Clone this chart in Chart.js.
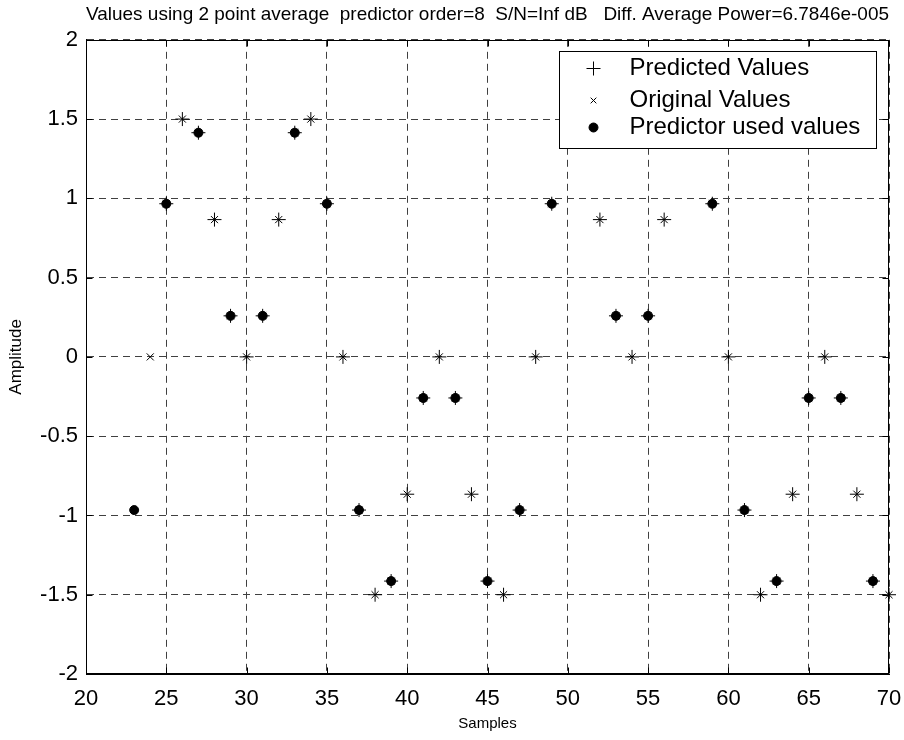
<!DOCTYPE html>
<html>
<head>
<meta charset="utf-8">
<title>Predictor values</title>
<script src="https://cdn.jsdelivr.net/npm/chart.js@4.4.0/dist/chart.umd.min.js"></script>
<style>
  html, body { margin: 0; padding: 0; background: #fff; }
  canvas { display: block; }
</style>
</head>
<body>
<canvas id="predictorChart" width="904" height="740"></canvas>
<script>
const CHART_ID = 'predictorChart';
const FONT = "'Liberation Sans', Arial, Helvetica, sans-serif";

const TITLE = 'Values using 2 point average  predictor order=8  S/N=Inf dB   Diff. Average Power=6.7846e-005';

// samples that carry an original value (x marker)
const originalSamples = [24, 25, 26, 27, 28, 29, 30, 31, 32, 33, 34, 35, 36, 37, 38, 39, 40, 41, 42, 43, 44, 45, 46, 47,
  48, 49, 50, 51, 52, 53, 54, 55, 56, 57, 58, 59, 60, 61, 62, 63, 64, 65, 66, 67, 68, 69, 70];
const originalValues = [0, 0.966, 1.5, 1.414, 0.866, 0.259, 0, 0.259, 0.866, 1.414, 1.5, 0.966, 0, -0.966, -1.5, -1.414,
  -0.866, -0.259, 0, -0.259, -0.866, -1.414, -1.5, -0.966, 0, 0.966, 1.5, 1.414, 0.866, 0.259, 0, 0.259, 0.866, 1.414,
  1.5, 0.966, 0, -0.966, -1.5, -1.414, -0.866, -0.259, 0, -0.259, -0.866, -1.414, -1.5];

// predicted values (+ marker)
const predictedSamples = [25, 26, 27, 28, 29, 30, 31, 32, 33, 34, 35, 36, 37, 38, 39, 40, 41, 42, 43, 44, 45, 46, 47,
  48, 49, 50, 51, 52, 53, 54, 55, 56, 57, 58, 59, 60, 61, 62, 63, 64, 65, 66, 67, 68, 69, 70];
const predictedValues = [0.966, 1.5, 1.414, 0.866, 0.259, 0, 0.259, 0.866, 1.414, 1.5, 0.966, 0, -0.966, -1.5, -1.414,
  -0.866, -0.259, 0, -0.259, -0.866, -1.414, -1.5, -0.966, 0, 0.966, 1.5, 1.414, 0.866, 0.259, 0, 0.259, 0.866, 1.414,
  1.5, 0.966, 0, -0.966, -1.5, -1.414, -0.866, -0.259, 0, -0.259, -0.866, -1.414, -1.5];

// values fed to the predictor (filled dots)
const usedSamples = [23, 25, 27, 29, 31, 33, 35, 37, 39, 41, 43, 45, 47, 49, 51, 53, 55, 57, 59, 61, 63, 65, 67, 69];
const usedValues = [-0.966, 0.966, 1.414, 0.259, 0.259, 1.414, 0.966, -0.966, -1.414, -0.259, -0.259, -1.414, -0.966,
  0.966, 1.414, 0.259, 0.259, 1.414, 0.966, -0.966, -1.414, -0.259, -0.259, -1.414];

const xTicks = { min: 20, max: 70, step: 5 };
const yTicks = { min: -2, max: 2, step: 0.5 };

const toPoints = (xs, ys) => xs.map((x, i) => ({ x: x, y: ys[i] }));

// MATLAB style box, inward ticks and a boxed legend drawn over the data
const matlabFrame = {
  id: 'matlabFrame',
  afterDatasetsDraw(chart) {
    const { ctx, chartArea: a, scales } = chart;
    const L = Math.round(a.left) + 0.5, R = Math.round(a.right) - 0.5;
    const T = Math.round(a.top) + 0.5, B = Math.round(a.bottom) - 0.5;
    ctx.save();
    ctx.strokeStyle = '#000';
    ctx.lineWidth = 1;
    ctx.setLineDash([]);
    ctx.beginPath();
    scales.x.ticks.forEach(t => {
      const px = Math.round(scales.x.getPixelForValue(t.value)) + 0.5;
      ctx.moveTo(px, B); ctx.lineTo(px, B - 6);
      ctx.moveTo(px, T); ctx.lineTo(px, T + 6);
    });
    scales.y.ticks.forEach(t => {
      const py = Math.round(scales.y.getPixelForValue(t.value)) + 0.5;
      ctx.moveTo(L, py); ctx.lineTo(L + 6, py);
      ctx.moveTo(R, py); ctx.lineTo(R - 6, py);
    });
    ctx.stroke();
    ctx.strokeRect(L, T, R - L, B - T);

    // legend
    const w = 317, h = 97;
    const lx = Math.round(a.right - 13 - w) + 0.5, ly = Math.round(a.top + 11) + 0.5;
    ctx.fillStyle = '#fff';
    ctx.fillRect(lx, ly, w, h);
    ctx.strokeRect(lx, ly, w, h);
    const rowY = [17, 49, 76];
    ctx.font = '24px ' + FONT;
    ctx.textBaseline = 'middle';
    ctx.textAlign = 'left';
    chart.data.datasets.forEach((ds, i) => {
      const cy = ly + rowY[i];
      ctx.fillStyle = '#000';
      ctx.strokeStyle = '#000';
      ctx.lineWidth = 1;
      Chart.helpers.drawPoint(ctx, {
        pointStyle: ds.pointStyle,
        radius: ds.legendRadius,
        borderWidth: 1,
        rotation: 0
      }, lx + 34, cy);
      ctx.fillText(ds.label, lx + 70, cy);
    });
    ctx.restore();
  }
};

const config = {
  type: 'scatter',
  data: {
    datasets: [
      {
        label: 'Predicted Values',
        data: toPoints(predictedSamples, predictedValues),
        pointStyle: 'cross',
        pointRadius: 7,
        legendRadius: 7,
        borderWidth: 1,
        borderColor: '#000',
        backgroundColor: '#000',
        clip: false
      },
      {
        label: 'Original Values',
        data: toPoints(originalSamples, originalValues),
        pointStyle: 'crossRot',
        pointRadius: 5,
        legendRadius: 4,
        borderWidth: 1,
        borderColor: '#000',
        backgroundColor: '#000',
        clip: false
      },
      {
        label: 'Predictor used values',
        data: toPoints(usedSamples, usedValues),
        pointStyle: 'circle',
        pointRadius: 4.5,
        legendRadius: 4.5,
        borderWidth: 1,
        borderColor: '#000',
        backgroundColor: '#000',
        clip: false
      }
    ]
  },
  options: {
    responsive: false,
    animation: false,
    events: [],
    layout: { padding: 0 },
    plugins: {
      legend: { display: false },
      tooltip: { enabled: false },
      title: {
        display: true,
        text: TITLE,
        fullSize: false,
        color: '#000',
        font: { family: FONT, size: 19, weight: 'normal' },
        padding: { top: 3, bottom: 14 }
      }
    },
    scales: {
      x: {
        type: 'linear',
        min: xTicks.min,
        max: xTicks.max,
        ticks: { stepSize: xTicks.step, color: '#000', padding: 12, font: { family: FONT, size: 22 } },
        grid: { color: '#404040', lineWidth: 1, drawTicks: false },
        border: { display: true, color: '#000', width: 1, dash: [7, 5] },
        title: {
          display: true, text: 'Samples', color: '#000',
          font: { family: FONT, size: 15 }, padding: { top: 0, bottom: 7 }
        },
        afterFit(scale) {
          scale.height = 66;
          scale.paddingLeft = 0;
          scale.paddingRight = 15;
        }
      },
      y: {
        type: 'linear',
        min: yTicks.min,
        max: yTicks.max,
        ticks: {
          stepSize: yTicks.step, color: '#000', padding: 8, font: { family: FONT, size: 22 },
          callback: (value) => String(value)
        },
        grid: { color: '#404040', lineWidth: 1, drawTicks: false },
        border: { display: true, color: '#000', width: 1, dash: [7, 5] },
        title: {
          display: true, text: 'Amplitude', color: '#000',
          font: { family: FONT, size: 17 }, padding: { top: 6, bottom: 0 }
        },
        afterFit(scale) { scale.width = 86; }
      }
    }
  },
  plugins: [matlabFrame]
};

window.onload = () => {
  new Chart(document.getElementById(CHART_ID), config);
};
</script>
</body>
</html>
